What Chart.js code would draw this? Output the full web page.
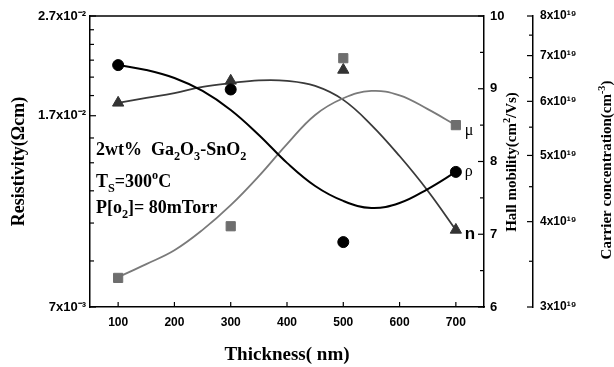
<!DOCTYPE html>
<html>
<head>
<meta charset="utf-8">
<script src="https://cdn.jsdelivr.net/npm/chart.js@4"></script>
<style>
    body { margin: 0; background: #fff; }
    #box { width: 614px; height: 367px; position: relative; }
</style>
</head>
<body>
<div id="box"><canvas id="thicknessChart"></canvas></div>
<script>
//////////////////////* Data *////////////////////////////
let thickness = [100, 300, 500, 700];
let resistivity = [0.0215, 0.0192, 0.00946, 0.0131];
let mobility = [6.40, 7.11, 9.42, 8.50];
let carrier = [5.97e19, 6.43e19, 6.67e19, 3.89e19];

// fitted curves
let fitThickness = [100, 150, 200, 250, 300, 350, 400, 450, 500, 550, 600, 650, 700];
let resistivityFit = [0.02151, 0.02102, 0.02025, 0.01907, 0.01746, 0.01555, 0.01366, 0.01227, 0.01145, 0.01108, 0.01134, 0.01210, 0.01310];
let mobilityFit = [6.41, 6.59, 6.78, 7.06, 7.40, 7.80, 8.24, 8.64, 8.87, 8.97, 8.91, 8.72, 8.50];
let carrierFit = [5.97e19, 6.07e19, 6.17e19, 6.30e19, 6.38e19, 6.44e19, 6.43e19, 6.32e19, 6.03e19, 5.54e19, 4.99e19, 4.44e19, 3.89e19];

//////////////////////* Ticks *////////////////////////////
let thicknessTicks = [100, 200, 300, 400, 500, 600, 700];
let resistivityTicks = [0.007, 0.017, 0.027];
let resistivityLabels = ["7x10⁻³", "1.7x10⁻²", "2.7x10⁻²"];
let mobilityTicks = [6, 7, 8, 9, 10];
let carrierTicks = [3e19, 4e19, 5e19, 6e19, 7e19, 8e19];
let carrierLabels = ["3x10¹⁹", "4x10¹⁹", "5x10¹⁹", "6x10¹⁹", "7x10¹⁹", "8x10¹⁹"];

let sansFont = "'Liberation Sans', Arial, sans-serif";
let serifFont = "'Liberation Serif', 'Times New Roman', serif";

// majors plus evenly split minor ticks
function withMinor(majors, parts) {
    let out = [];
    for (let i = 0; i < majors.length; i++) {
        out.push({ value: majors[i], major: true });
        if (i < majors.length - 1) {
            let step = (majors[i + 1] - majors[i]) / parts;
            for (let k = 1; k < parts; k++) {
                out.push({ value: majors[i] + step * k, major: false });
            }
        }
    }
    return out;
}

function labelFor(majors, labels, value) {
    for (let i = 0; i < majors.length; i++) {
        if (Math.abs(majors[i] - value) / majors[i] < 1e-6) return labels[i];
    }
    return "";
}

function points(xs, ys) {
    return xs.map((x, i) => ({ x: x, y: ys[i] }));
}

// text with sub/superscripts: segs = [[text, mode]] mode 0 normal, 1 sub, 2 sup
function drawRich(ctx, segs, x, y, size, family, weight, align) {
    let parts = segs.map(s => {
        let fs = s[1] ? size * 0.68 : size;
        ctx.font = weight + " " + fs + "px " + family;
        return { t: s[0], m: s[1], fs: fs, w: ctx.measureText(s[0]).width };
    });
    let total = parts.reduce((a, p) => a + p.w, 0);
    let cx = align === "center" ? x - total / 2 : x;
    ctx.textAlign = "left";
    ctx.textBaseline = "alphabetic";
    parts.forEach(p => {
        ctx.font = weight + " " + p.fs + "px " + family;
        let dy = p.m === 1 ? size * 0.28 : (p.m === 2 ? -size * 0.42 : 0);
        ctx.fillText(p.t, cx, y + dy);
        cx += p.w;
    });
}

//////////////////////* Frame, inward ticks, notes *////////////////////////////
let framePlugin = {
    id: "frame",
    afterDraw(chart) {
        let ctx = chart.ctx;
        let area = chart.chartArea;
        let s = chart.scales;
        ctx.save();
        ctx.strokeStyle = "#000";
        ctx.fillStyle = "#000";
        ctx.lineWidth = 1.5;
        ctx.beginPath();
        ctx.moveTo(area.left, area.top);
        ctx.lineTo(area.right, area.top);
        ctx.stroke();

        ctx.lineWidth = 1.2;
        s.x.ticks.forEach(t => {
            let px = s.x.getPixelForValue(t.value);
            ctx.beginPath();
            ctx.moveTo(px, area.bottom);
            ctx.lineTo(px, area.bottom - 5);
            ctx.stroke();
        });
        s.y.ticks.forEach(t => {
            let py = s.y.getPixelForValue(t.value);
            ctx.beginPath();
            ctx.moveTo(area.left, py);
            ctx.lineTo(area.left + (t.major ? 6 : 4), py);
            ctx.stroke();
        });
        s.yMu.ticks.forEach(t => {
            let py = s.yMu.getPixelForValue(t.value);
            ctx.beginPath();
            ctx.moveTo(area.right, py);
            ctx.lineTo(area.right - (t.major ? 6 : 4), py);
            ctx.stroke();
        });
        s.yN.ticks.forEach(t => {
            let py = s.yN.getPixelForValue(t.value);
            ctx.beginPath();
            ctx.moveTo(s.yN.left, py);
            ctx.lineTo(s.yN.left - (t.major ? 6 : 4), py);
            ctx.stroke();
        });

        // sample notes
        let nx = area.left + 6;
        drawRich(ctx, [["2wt%  Ga", 0], ["2", 1], ["O", 0], ["3", 1], ["-SnO", 0], ["2", 1]], nx, 155, 18, serifFont, "bold", "left");
        drawRich(ctx, [["T", 0], ["S", 1], ["=300", 0], ["o", 2], ["C", 0]], nx, 187, 18, serifFont, "bold", "left");
        drawRich(ctx, [["P[o", 0], ["2", 1], ["]= 80mTorr", 0]], nx, 213, 18, serifFont, "bold", "left");

        // series labels next to the last point
        let lastOf = i => {
            let d = chart.getDatasetMeta(i).data;
            return d[d.length - 1];
        };
        ctx.textAlign = "left";
        ctx.textBaseline = "middle";
        let pR = lastOf(0), pM = lastOf(1), pN = lastOf(2);
        ctx.font = "16px " + serifFont;
        ctx.fillText("μ", pM.x + 9, pM.y + 6);
        ctx.fillText("ρ", pR.x + 9, pR.y);
        ctx.font = "bold 17px " + sansFont;
        ctx.fillText("n", pN.x + 9, pN.y + 4);

        // axis titles
        drawRich(ctx, [["Thickness( nm)", 0]], (area.left + area.right) / 2, 360, 19, serifFont, "bold", "center");

        ctx.save();
        ctx.translate(24, (area.top + area.bottom) / 2);
        ctx.rotate(-Math.PI / 2);
        drawRich(ctx, [["Resistivity(Ωcm)", 0]], 0, 0, 18, serifFont, "bold", "center");
        ctx.restore();

        ctx.save();
        ctx.translate(516, 162);
        ctx.rotate(-Math.PI / 2);
        drawRich(ctx, [["Hall mobility(cm", 0], ["2", 2], ["/Vs)", 0]], 0, 0, 15, serifFont, "bold", "center");
        ctx.restore();

        ctx.save();
        ctx.translate(611, 170);
        ctx.rotate(-Math.PI / 2);
        drawRich(ctx, [["Carrier concentration(cm", 0], ["-3", 2], [")", 0]], 0, 0, 15, serifFont, "bold", "center");
        ctx.restore();

        ctx.restore();
    }
};

//////////////////////* Chart *////////////////////////////
function thicknessChart() {
    let ctx = document.getElementById("thicknessChart");
    let tickFont = { family: sansFont, weight: "bold", size: 13 };
    let axisBorder = { color: "#000", width: 1.5 };
    let noGrid = { drawOnChartArea: false, drawTicks: false };
    let data = {
        datasets: [
            {
                label: "rho",
                data: points(thickness, resistivity),
                yAxisID: "y",
                showLine: false,
                pointStyle: "circle",
                pointRadius: 5.5,
                backgroundColor: "#000",
                borderColor: "#000",
            },
            {
                label: "mu",
                data: points(thickness, mobility),
                yAxisID: "yMu",
                showLine: false,
                pointStyle: "rect",
                pointRadius: 6.5,
                backgroundColor: "#6e6e6e",
                borderColor: "#6e6e6e",
            },
            {
                label: "n",
                data: points(thickness, carrier),
                yAxisID: "yN",
                showLine: false,
                pointStyle: "triangle",
                pointRadius: 6.5,
                backgroundColor: "#333",
                borderColor: "#333",
            },
            {
                label: "rho fit",
                data: points(fitThickness, resistivityFit),
                yAxisID: "y",
                borderColor: "#000",
                borderWidth: 2,
                pointRadius: 0,
                tension: 0.4,
            },
            {
                label: "mu fit",
                data: points(fitThickness, mobilityFit),
                yAxisID: "yMu",
                borderColor: "#7a7a7a",
                borderWidth: 1.8,
                pointRadius: 0,
                tension: 0.4,
            },
            {
                label: "n fit",
                data: points(fitThickness, carrierFit),
                yAxisID: "yN",
                borderColor: "#3a3a3a",
                borderWidth: 1.8,
                pointRadius: 0,
                tension: 0.4,
            },
        ],
    };
    let config = {
        type: "line",
        data: data,
        options: {
            responsive: true,
            maintainAspectRatio: false,
            animation: false,
            layout: { padding: { top: 16, left: 0, right: 0, bottom: 0 } },
            plugins: {
                legend: { display: false },
                tooltip: { enabled: false },
            },
            scales: {
                x: {
                    type: "linear",
                    position: "bottom",
                    min: 50,
                    max: 750,
                    afterBuildTicks: s => { s.ticks = thicknessTicks.map(v => ({ value: v })); },
                    afterFit: s => { s.height = 60; },
                    ticks: { color: "#000", font: { family: sansFont, weight: "bold", size: 12 }, padding: 8, autoSkip: false, maxRotation: 0 },
                    border: axisBorder,
                    grid: noGrid,
                },
                y: {
                    type: "logarithmic",
                    position: "left",
                    min: 0.007,
                    max: 0.027,
                    afterBuildTicks: s => { s.ticks = withMinor(resistivityTicks, 6); },
                    afterFit: s => { s.width = 90; },
                    ticks: {
                        color: "#000",
                        font: tickFont,
                        padding: 4,
                        autoSkip: false,
                        callback: value => labelFor(resistivityTicks, resistivityLabels, value),
                    },
                    border: axisBorder,
                    grid: noGrid,
                },
                yMu: {
                    type: "linear",
                    position: "right",
                    min: 6,
                    max: 10,
                    afterBuildTicks: s => { s.ticks = withMinor(mobilityTicks, 2); },
                    afterFit: s => { s.width = 49; },
                    ticks: {
                        color: "#000",
                        font: tickFont,
                        padding: 6,
                        autoSkip: false,
                        callback: value => labelFor(mobilityTicks, mobilityTicks.map(String), value),
                    },
                    border: axisBorder,
                    grid: noGrid,
                },
                yN: {
                    type: "logarithmic",
                    position: "right",
                    min: 3e19,
                    max: 8e19,
                    afterBuildTicks: s => { s.ticks = withMinor(carrierTicks, 2); },
                    afterFit: s => { s.width = 81; },
                    ticks: {
                        color: "#000",
                        font: { family: sansFont, weight: "bold", size: 12 },
                        padding: 7,
                        autoSkip: false,
                        callback: value => labelFor(carrierTicks, carrierLabels, value),
                    },
                    border: axisBorder,
                    grid: noGrid,
                },
            },
        },
        plugins: [framePlugin],
    };
    let chart = new Chart(ctx, config);
}

thicknessChart();
</script>
</body>
</html>
